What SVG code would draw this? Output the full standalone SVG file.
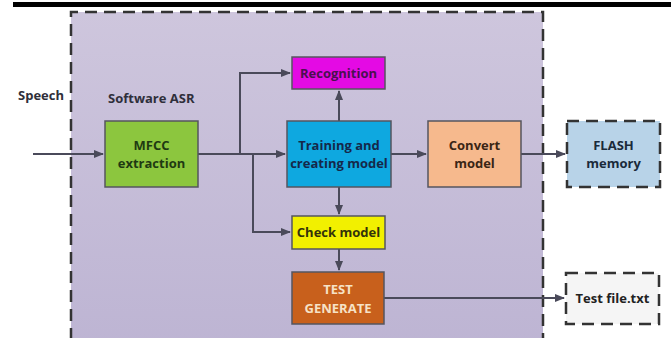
<svg xmlns="http://www.w3.org/2000/svg" width="671" height="338" viewBox="0 0 671 338">
<defs>
<linearGradient id="bg" x1="0" y1="0" x2="0" y2="1">
<stop offset="0" stop-color="#cec6dd"/>
<stop offset="1" stop-color="#bdb4d3"/>
</linearGradient>
<marker id="ah" viewBox="0 0 10 10" refX="9" refY="5" markerWidth="10" markerHeight="10" markerUnits="userSpaceOnUse" orient="auto">
<path d="M0,1 L10,5 L0,9 z" fill="#4a4a5a"/>
</marker>
</defs>
<style>
text{font-family:"Open Sans","Liberation Sans",sans-serif;font-weight:bold;font-size:13px;text-anchor:middle}
.lbl{text-anchor:start;fill:#2f2f3a}
.box{stroke:#55555f;stroke-width:1.5}
.dash{fill:none;stroke:#333;stroke-width:2.5;stroke-dasharray:12 7}
.conn{fill:none;stroke:#4a4a5a;stroke-width:2}
</style>
<rect x="0" y="0" width="671" height="338" fill="#fff"/>
<rect x="13" y="2" width="658" height="5" fill="#000"/>
<g id="container">
<rect x="71" y="12" width="472" height="340" fill="url(#bg)"/>
<path d="M71,340 L71,12 L543,12 L543,340" class="dash"/>
</g>
<text class="lbl" x="18" y="100">Speech</text>
<text class="lbl" x="108" y="103">Software ASR</text>
<g id="connectors">
<path class="conn" d="M33,154 L103,154" marker-end="url(#ah)"/>
<path class="conn" d="M198,154 L285,154" marker-end="url(#ah)"/>
<path class="conn" d="M240,154 L240,73 L290,73" marker-end="url(#ah)"/>
<path class="conn" d="M253,154 L253,232 L290,232" marker-end="url(#ah)"/>
<path class="conn" d="M339,121 L339,91" marker-end="url(#ah)"/>
<path class="conn" d="M391,154 L426,154" marker-end="url(#ah)"/>
<path class="conn" d="M521,154 L565,154" marker-end="url(#ah)"/>
<path class="conn" d="M339,187 L339,214" marker-end="url(#ah)"/>
<path class="conn" d="M339,249 L339,270" marker-end="url(#ah)"/>
<path class="conn" d="M384,298 L564,298" marker-end="url(#ah)"/>
</g>
<g id="mfcc">
<rect class="box" x="105" y="121" width="93" height="66" fill="#8cc63e"/>
<text x="151.5" y="150" fill="#1f3a12">MFCC</text>
<text x="151.5" y="168" fill="#1f3a12">extraction</text>
</g>
<g id="recognition">
<rect class="box" x="292" y="57" width="93" height="32" fill="#e40ae4"/>
<text x="338.5" y="78" fill="#4a1050">Recognition</text>
</g>
<g id="training">
<rect class="box" x="287" y="121" width="104" height="66" fill="#0ea8e0"/>
<text x="339" y="150" fill="#15284a">Training and</text>
<text x="339" y="168" fill="#15284a">creating model</text>
</g>
<g id="convert">
<rect class="box" x="428" y="121" width="93" height="66" fill="#f6b98d"/>
<text x="474.5" y="150" fill="#3a2515">Convert</text>
<text x="474.5" y="168" fill="#3a2515">model</text>
</g>
<g id="flash">
<rect x="567" y="121" width="93" height="66" fill="#b8d3e8"/>
<rect x="567" y="121" width="93" height="66" class="dash" stroke="#444" stroke-width="2"/>
<text x="613.5" y="150" fill="#1a2a3a">FLASH</text>
<text x="613.5" y="168" fill="#1a2a3a">memory</text>
</g>
<g id="check">
<rect class="box" x="292" y="216" width="93" height="33" fill="#f2f000"/>
<text x="338.5" y="237" fill="#33330a">Check model</text>
</g>
<g id="testgen">
<rect class="box" x="292" y="272" width="92" height="52" fill="#c8601c"/>
<text x="338" y="294" fill="#f6e2c6">TEST</text>
<text x="338" y="313" fill="#f6e2c6">GENERATE</text>
</g>
<g id="testfile">
<rect x="566" y="273" width="93" height="51" fill="#f5f5f5"/>
<rect x="566" y="273" width="93" height="51" class="dash" stroke="#444" stroke-width="2"/>
<text x="612.5" y="303" fill="#222">Test file.txt</text>
</g>
</svg>
